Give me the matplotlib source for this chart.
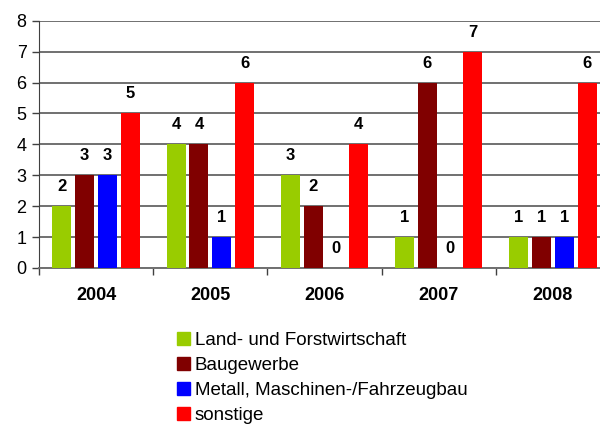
import numpy as np
import matplotlib
matplotlib.use("Agg")
import matplotlib.pyplot as plt
from matplotlib.patches import Patch

plt.rcParams["font.family"] = ["Liberation Sans", "DejaVu Sans"]

years = ["2004", "2005", "2006", "2007", "2008"]
series_names = ["Land- und Forstwirtschaft", "Baugewerbe",
                "Metall, Maschinen-/Fahrzeugbau", "sonstige"]
land = [2, 4, 3, 1, 1]
bau = [3, 4, 2, 6, 1]
metall = [3, 1, 0, 0, 1]
sonstige = [5, 6, 4, 7, 6]
colors = ["#99CC00", "#800000", "#0000FF", "#FF0000"]

fig = plt.figure(figsize=(6.0, 4.29), dpi=100)
ax = fig.add_axes([39 / 600, 161 / 429, 571 / 600, 247.3 / 429])

x = np.arange(len(years))
offsets = [-0.3, -0.1, 0.1, 0.3]
for vals, off, col in zip([land, bau, metall, sonstige], offsets, colors):
    ax.bar(x + off, vals, width=0.166, color=col, zorder=3)
    for xi, v in zip(x + off, vals):
        ax.annotate(str(v), (xi, v), xytext=(0, 14), textcoords="offset points",
                    ha="center", va="center", fontsize=12, fontweight="bold")

ax.set_xlim(-0.5, len(years) - 0.5)
ax.set_ylim(0, 8)
ax.set_yticks(range(0, 9))
ax.tick_params(axis="y", labelsize=13, length=5, width=1, color="#404040", pad=4)
ax.yaxis.grid(True, color="#707070", lw=1.4, zorder=0)

# category boundaries as ticks, labels centred under groups
ax.set_xticks(np.arange(-0.5, len(years), 1.0))
ax.set_xticklabels([])
ax.set_xticks(x, minor=True)
ax.set_xticklabels(years, minor=True, fontsize=13, fontweight="bold")
ax.tick_params(axis="x", which="major", length=5, width=1, color="#404040")
ax.tick_params(axis="x", which="minor", length=0, pad=14)

for s in ["top", "right"]:
    ax.spines[s].set_visible(False)
ax.spines["left"].set_color("#404040")
ax.spines["bottom"].set_color("#707070")
ax.spines["bottom"].set_linewidth(1.4)

handles = [Patch(color=c) for c in colors]
fig.legend(handles, series_names, loc="upper left", bbox_to_anchor=(177 / 600, 1 - 332 / 429),
           frameon=False, fontsize=13.5, handlelength=0.7, handleheight=0.7,
           handletextpad=0.25, labelspacing=0.42, borderpad=0, borderaxespad=0)

fig.savefig("out.png", dpi=100)
